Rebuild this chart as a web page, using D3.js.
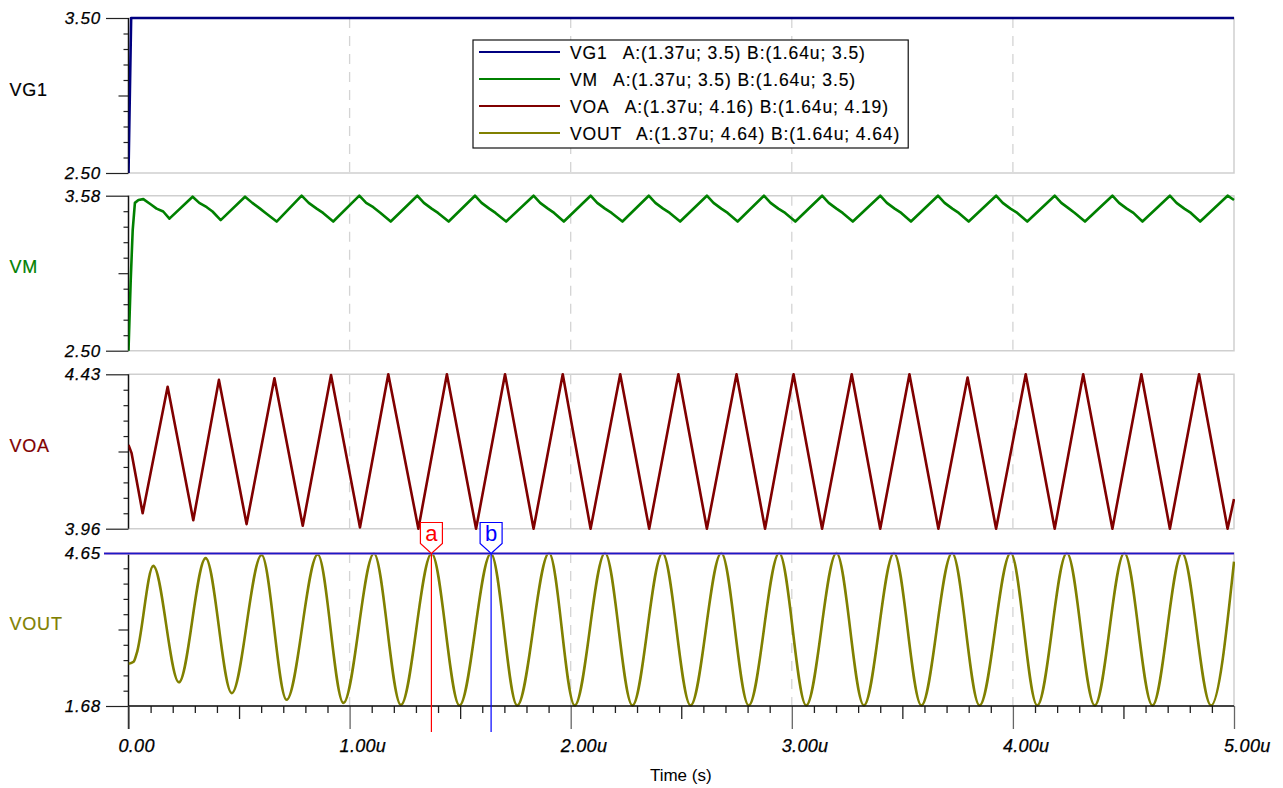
<!DOCTYPE html>
<html><head><meta charset="utf-8">
<script src="https://cdn.jsdelivr.net/npm/d3@7"></script>
<style>
body{margin:0;background:#fff}
svg{display:block}
text{font-family:Arial,"Liberation Sans",sans-serif}
</style>
</head><body>
<svg id="chart" width="1283" height="788"></svg>
<script>
// ---------------- DATA ----------------
const timeTicks = [0, 1, 2, 3, 4, 5];
const timeTickLabels = ["0.00", "1.00u", "2.00u", "3.00u", "4.00u", "5.00u"];
const xTitle = "Time (s)";
const panelNames = ["VG1", "VM", "VOA", "VOUT"];
const panelColors = ["#000080", "#008000", "#800000", "#808000"];
const panelLabelColors = ["#000000", "#008000", "#800000", "#808000"];
const panelRanges = [[2.50, 3.50], [2.50, 3.58], [3.96, 4.43], [1.68, 4.65]];
const yTickLabels = [["2.50", "3.50"], ["2.50", "3.58"], ["3.96", "4.43"], ["1.68", "4.65"]];

const vg1 = [[0, 2.50], [0.012, 3.50], [5, 3.50]];

const vm = [
  [0, 2.50], [0.01, 2.99], [0.019, 3.34], [0.029, 3.53], [0.045, 3.55], [0.067, 3.556],
  [0.10, 3.52], [0.127, 3.49], [0.157, 3.47], [0.185, 3.42],
  [0.29, 3.573], [0.32, 3.53], [0.354, 3.50], [0.38, 3.47], [0.417, 3.41],
  [0.527, 3.573], [0.56, 3.53], [0.595, 3.49], [0.62, 3.46], [0.67, 3.40],
  [0.783, 3.58], [0.815, 3.53], [0.851, 3.49], [0.88, 3.46], [0.926, 3.40],
  [1.044, 3.58], [1.075, 3.53], [1.107, 3.50], [1.14, 3.46], [1.186, 3.40],
  [1.306, 3.58], [1.336, 3.53], [1.371, 3.49], [1.40, 3.46], [1.448, 3.40],
  [1.567, 3.58], [1.597, 3.53], [1.632, 3.49], [1.66, 3.46], [1.708, 3.40],
  [1.832, 3.58], [1.862, 3.53], [1.897, 3.49], [1.925, 3.46], [1.969, 3.40],
  [2.090, 3.58], [2.12, 3.53], [2.155, 3.49], [2.185, 3.46], [2.234, 3.40],
  [2.353, 3.58], [2.383, 3.53], [2.418, 3.49], [2.448, 3.46], [2.495, 3.40],
  [2.616, 3.58], [2.646, 3.53], [2.681, 3.49], [2.71, 3.46], [2.755, 3.40],
  [2.874, 3.58], [2.904, 3.53], [2.939, 3.49], [2.97, 3.46], [3.016, 3.40],
  [3.137, 3.58], [3.167, 3.53], [3.202, 3.49], [3.23, 3.46], [3.276, 3.40],
  [3.400, 3.58], [3.43, 3.53], [3.465, 3.49], [3.495, 3.46], [3.539, 3.40],
  [3.661, 3.58], [3.691, 3.53], [3.726, 3.49], [3.755, 3.46], [3.800, 3.40],
  [3.924, 3.58], [3.954, 3.53], [3.989, 3.49], [4.02, 3.46], [4.065, 3.40],
  [4.189, 3.58], [4.219, 3.53], [4.254, 3.49], [4.28, 3.46], [4.326, 3.40],
  [4.450, 3.58], [4.48, 3.53], [4.515, 3.49], [4.545, 3.46], [4.586, 3.40],
  [4.710, 3.58], [4.74, 3.53], [4.775, 3.49], [4.805, 3.46], [4.847, 3.40],
  [4.971, 3.58], [5.0, 3.55]
];

const voa = [
  [0, 4.215], [0.014, 4.19], [0.064, 4.007], [0.177, 4.392], [0.293, 3.986], [0.409, 4.413],
  [0.534, 3.974], [0.66, 4.418], [0.788, 3.969], [0.916, 4.428], [1.047, 3.964], [1.175, 4.43],
  [1.311, 3.96], [1.440, 4.43], [1.572, 3.96], [1.703, 4.43], [1.832, 3.96], [1.964, 4.43],
  [2.090, 3.96], [2.224, 4.43], [2.355, 3.96], [2.487, 4.43], [2.616, 3.96], [2.750, 4.43],
  [2.879, 3.96], [3.008, 4.43], [3.137, 3.96], [3.271, 4.43], [3.400, 3.96], [3.532, 4.43],
  [3.663, 3.96], [3.795, 4.42], [3.924, 3.96], [4.058, 4.43], [4.189, 3.96], [4.318, 4.43],
  [4.450, 3.96], [4.581, 4.43], [4.710, 3.96], [4.842, 4.43], [4.971, 3.96], [5.0, 4.05]
];

const vout = [
  [0, 2.50], [0.023, 2.54], [0.037, 2.70], [0.112, 4.40], [0.228, 2.14], [0.349, 4.55],
  [0.467, 1.93], [0.602, 4.61], [0.715, 1.80], [0.856, 4.62], [0.972, 1.74], [1.110, 4.64],
  [1.232, 1.70], [1.371, 4.64], [1.497, 1.69], [1.639, 4.64], [1.758, 1.69], [1.902, 4.65],
  [2.018, 1.69], [2.155, 4.65], [2.279, 1.69], [2.415, 4.65], [2.542, 1.69], [2.681, 4.65],
  [2.805, 1.69], [2.943, 4.65], [3.065, 1.69], [3.202, 4.65], [3.326, 1.69], [3.462, 4.65],
  [3.586, 1.69], [3.725, 4.65], [3.849, 1.69], [3.990, 4.65], [4.110, 1.69], [4.244, 4.65],
  [4.370, 1.69], [4.504, 4.65], [4.631, 1.69], [4.765, 4.65], [4.896, 1.69], [5.0, 4.48]
];

const legendNames = ["VG1", "VM", "VOA", "VOUT"];
const legendValues = [
  "A:(1.37u; 3.5) B:(1.64u; 3.5)",
  "A:(1.37u; 3.5) B:(1.64u; 3.5)",
  "A:(1.37u; 4.16) B:(1.64u; 4.19)",
  "A:(1.37u; 4.64) B:(1.64u; 4.64)"
];

const cursorNames = ["a", "b"];
const cursorTimes = [1.37, 1.64];
const cursorValues = [4.64, 4.64];
const cursorColors = ["#ff0000", "#0000ff"];

// ---------------- LAYOUT ----------------
const series = [vg1, vm, voa, vout];
const panelTop = [18, 195.7, 374.3, 553];
const panelBottom = [173, 350.7, 528.7, 706];
const left = 128.5, right = 1234;

const svg = d3.select("#chart");
const x = d3.scaleLinear().domain([0, 5]).range([left, right]);

const defs = svg.append("defs");

panelNames.forEach((name, i) => {
  const y = d3.scaleLinear().domain(panelRanges[i]).range([panelBottom[i], panelTop[i]]);
  const g = svg.append("g");

  defs.append("clipPath").attr("id", "clip" + i)
    .append("rect").attr("x", left).attr("y", panelTop[i] - 3)
    .attr("width", right - left + 1).attr("height", panelBottom[i] - panelTop[i] + 6);

  g.append("path")
    .attr("d", `M${left},${panelTop[i]}H${right}V${panelBottom[i]}H${left}`)
    .attr("fill", "none").attr("stroke", "#cfcfcf").attr("stroke-width", 1.5);

  g.selectAll(".grid").data(timeTicks.slice(1, -1)).join("line")
    .attr("x1", d => x(d)).attr("x2", d => x(d))
    .attr("y1", panelTop[i]).attr("y2", panelBottom[i])
    .attr("stroke", "#d4d4d4").attr("stroke-width", 1.3)
    .attr("stroke-dasharray", "10,8");

  const step = (panelRanges[i][1] - panelRanges[i][0]) / 10;
  const allTicks = d3.range(11).map(k => panelRanges[i][0] + k * step);
  const minor = allTicks.filter((d, k) => k !== 0 && k !== 5 && k !== 10);
  const mid = [allTicks[5]];
  const ends = [allTicks[0], allTicks[10]];
  const mkAxis = (vals, size) => {
    const a = g.append("g").attr("transform", `translate(${left},0)`)
      .call(d3.axisLeft(y).tickValues(vals).tickSize(size).tickFormat(""));
    a.select(".domain").remove();
    a.selectAll("line").attr("stroke", "#222").attr("stroke-width", 1.2);
    return a;
  };
  mkAxis(minor, 5);
  mkAxis(mid, 10);
  mkAxis(ends, 22.5);
  g.append("line").attr("x1", left).attr("x2", left)
    .attr("y1", panelTop[i]).attr("y2", panelBottom[i])
    .attr("stroke", "#111").attr("stroke-width", 1.5);

  g.selectAll(".yl").data(ends).join("text")
    .attr("x", 101).attr("y", d => y(d) + 6)
    .attr("text-anchor", "end").attr("font-style", "italic")
    .attr("font-size", 17).attr("letter-spacing", 0.8).attr("fill", "#000")
    .attr("stroke", "#000").attr("stroke-width", 0.25)
    .text((d, k) => yTickLabels[i][k]);

  g.append("text").attr("x", 9.5).attr("y", (panelTop[i] + panelBottom[i]) / 2)
    .attr("font-size", 18).attr("letter-spacing", 0.8)
    .attr("fill", panelLabelColors[i]).attr("stroke", panelLabelColors[i]).attr("stroke-width", 0.2)
    .text(name);

  const line = d3.line().x(d => x(d[0])).y(d => y(d[1]))
    .curve(i === 3 ? d3.curveMonotoneX : d3.curveLinear);
  g.append("path").datum(series[i])
    .attr("clip-path", `url(#clip${i})`)
    .attr("d", line).attr("fill", "none")
    .attr("stroke", panelColors[i]).attr("stroke-width", 2.6)
    .attr("stroke-linejoin", "round");
});

// ---------------- X AXIS ----------------
const yOut = d3.scaleLinear().domain(panelRanges[3]).range([panelBottom[3], panelTop[3]]);
const xAxisY = panelBottom[3];
const allX = d3.range(51).map(k => k / 10);
const xMinor = allX.filter((d, k) => k % 5 !== 0);
const xHalf = allX.filter((d, k) => k % 10 === 5);
const xg = svg.append("g");
const mkX = (vals, size, color) => {
  const a = xg.append("g").attr("transform", `translate(0,${xAxisY})`)
    .call(d3.axisBottom(x).tickValues(vals).tickSize(size).tickFormat(""));
  a.select(".domain").remove();
  a.selectAll("line").attr("stroke", color).attr("stroke-width", 1.3);
};
mkX(xMinor, 7, "#222");
mkX(xHalf, 13, "#222");
mkX(timeTicks, 23, "#666");
xg.append("line").attr("x1", left).attr("x2", right).attr("y1", xAxisY).attr("y2", xAxisY)
  .attr("stroke", "#111").attr("stroke-width", 1.5);
xg.append("line").attr("x1", left).attr("x2", left).attr("y1", xAxisY).attr("y2", xAxisY + 23)
  .attr("stroke", "#333").attr("stroke-width", 1.5);
xg.selectAll(".xl").data(timeTicks).join("text")
  .attr("x", d => x(d) - 10).attr("y", 752)
  .attr("font-style", "italic").attr("font-size", 18).attr("letter-spacing", 0.3)
  .attr("fill", "#000").attr("stroke", "#000").attr("stroke-width", 0.25)
  .text((d, k) => timeTickLabels[k]);
xg.append("text").attr("x", (left + right) / 2 - 0.5).attr("y", 781)
  .attr("text-anchor", "middle").attr("font-size", 17).attr("fill", "#000").text(xTitle);

// ---------------- CURSORS ----------------
const cg = svg.append("g");
cursorNames.forEach((c, k) => {
  cg.append("line").attr("x1", 104).attr("x2", right)
    .attr("y1", yOut(cursorValues[k])).attr("y2", yOut(cursorValues[k]))
    .attr("stroke", k === 0 ? "#c090d0" : "#1a1ac8")
    .attr("stroke-width", k === 0 ? 2.6 : 1.4);
});
cursorNames.forEach((c, k) => {
  const cx = x(cursorTimes[k]);
  const tip = yOut(cursorValues[k]);
  cg.append("line").attr("x1", cx).attr("x2", cx).attr("y1", tip).attr("y2", 732)
    .attr("stroke", cursorColors[k]).attr("stroke-width", 1.2);
  cg.append("path")
    .attr("d", `M${cx - 11},${tip - 31}H${cx + 11}V${tip - 10}L${cx},${tip}L${cx - 11},${tip - 10}Z`)
    .attr("fill", "#fff").attr("stroke", cursorColors[k]).attr("stroke-width", 1.2);
  cg.append("text").attr("x", cx).attr("y", tip - 12.5)
    .attr("text-anchor", "middle").attr("font-size", 22)
    .attr("fill", cursorColors[k]).text(c);
});

// ---------------- LEGEND ----------------
const lg = svg.append("g");
const legX = 473, legY = 40, rowH = 27;
const box = lg.append("rect").attr("x", legX).attr("y", legY)
  .attr("height", 108).attr("fill", "#fff").attr("stroke", "#111").attr("stroke-width", 1.2);
let maxW = 0;
legendNames.forEach((n, k) => {
  const ry = legY + 12 + k * rowH;
  lg.append("line").attr("x1", legX + 6).attr("x2", legX + 87).attr("y1", ry).attr("y2", ry)
    .attr("stroke", panelColors[k]).attr("stroke-width", 2);
  const t = lg.append("text").attr("x", legX + 97).attr("y", ry + 6.5)
    .attr("font-size", 17.5).attr("letter-spacing", 0.9).attr("fill", "#000")
    .attr("stroke", "#000").attr("stroke-width", 0.15);
  t.append("tspan").text(n);
  t.append("tspan").attr("dx", 15).text(legendValues[k]);
  maxW = Math.max(maxW, t.node().getComputedTextLength() + 15);
});
box.attr("width", 97 + maxW + 8);
</script>
</body></html>
